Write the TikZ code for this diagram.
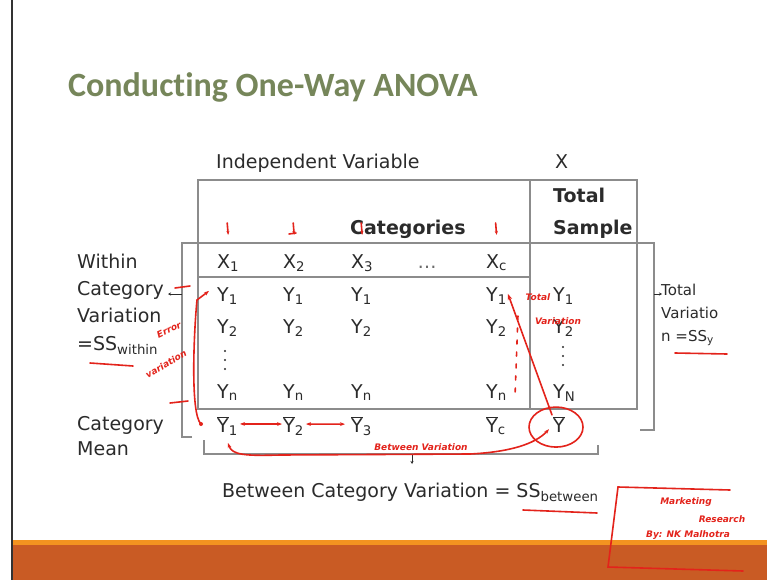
\documentclass[tikz,border=0pt]{standalone}
\usepackage{fontspec}
\setmainfont{DejaVu Sans}
\newfontfamily\titlefont[Ligatures=NoCommon]{Carlito}
\usepackage{xcolor}
\usepackage{tikz}
\usetikzlibrary{arrows.meta, positioning, calc}

\definecolor{titlegreen}{HTML}{76865A}
\definecolor{slidetext}{HTML}{2B2B2B}
\definecolor{framegray}{HTML}{8C8C8C}
\definecolor{penred}{HTML}{E3231B}
\definecolor{bandorange}{HTML}{C95B24}
\definecolor{bandline}{HTML}{F39320}

\newcommand{\barY}{$\overline{\mbox{Y}}$}

\begin{document}
\begin{tikzpicture}[x=1pt, y=-1pt,
    txt/.style={text=slidetext, font=\fontsize{19}{22}\selectfont, inner sep=0pt, anchor=base west},
    frame/.style={draw=framegray, line width=1.2pt},
    pointer/.style={draw=slidetext, line width=0.6pt, -{Stealth[length=3pt, width=3pt]}},
    pen/.style={draw=penred, line width=1.6pt, line cap=round},
    hand/.style={text=penred, font=\fontsize{9}{10}\selectfont\itshape\bfseries, inner sep=0pt}
]
    % Slide background and footer band
    \useasboundingbox (0,0) rectangle (767,580);
    \fill[white] (0,0) rectangle (767,580);
    \fill[bandorange] (12,545) rectangle (767,580);
    \fill[bandline] (12,540) rectangle (767,545);
    \draw[black!80, line width=1.5pt] (12,0) -- (12,580);

    % Title
    \node[text=titlegreen, font=\titlefont\bfseries\fontsize{34}{38}\selectfont, inner sep=0pt, anchor=base west]
        (title) at (68,97) {Conducting One-Way ANOVA};

    % Header texts (multi-line nodes sit on their last baseline)
    \node[txt] (iv) at (216,168) {Independent Variable};
    \node[txt] (xlab) at (555,168) {X};
    \node[txt, font=\fontsize{19}{22}\selectfont\bfseries] (cat) at (350,234) {Categories};
    \node[txt, font=\fontsize{19}{32}\selectfont\bfseries, align=left] (total) at (553,234) {Total\\Sample};

    % The table frame
    \draw[frame] (198,180) rectangle (637,409);
    \draw[frame] (530,180) -- (530,409);
    \draw[frame] (198,277) -- (530,277);
    \draw[frame] (192,437) -- (182,437) -- (182,243) -- (654,243) -- (654,430) -- (640,430);
    \draw[frame] (204,440) -- (204,454) -- (598,454) -- (598,445);

    % Category row
    \foreach \i/\x in {1/217, 2/283, 3/351, c/486} {
        \node[txt] (x\i) at (\x,268) {X\textsubscript{\i}};
    }
    \node[txt, anchor=base, text=slidetext!70] (xdots) at (427,268) {\ldots};

    % Observations in each category
    \foreach \c/\x in {1/217, 2/283, 3/351, c/486} {
        \foreach \r/\yy in {1/301, 2/333, n/398} {
            \node[txt] (y\r\c) at (\x,\yy) {Y\textsubscript{\r}};
        }
        \node[txt] (yb\c) at (\x,432) {\barY\textsubscript{\c}};
    }
    \node[txt] (ty1) at (553,301) {Y\textsubscript{1}};
    \node[txt] (ty2) at (553,333) {Y\textsubscript{2}};
    \node[txt] (tyN) at (553,398) {Y\textsubscript{N}};
    \node[txt] (ybT) at (553,432) {\barY};
    \foreach \d in {0,1,2} {
        \fill[slidetext] (225,351+9*\d) circle (1.1);
        \fill[slidetext] (563,347+9*\d) circle (1.1);
    }

    % Side and bottom labels
    \node[txt, font=\fontsize{19}{27.3}\selectfont, align=left] (within) at (77,350)
        {Within\\Category\\Variation\\=SS\textsubscript{within}};
    \node[txt, font=\fontsize{19}{25}\selectfont, align=left] (catmean) at (77,455) {Category\\Mean};
    \node[txt, font=\fontsize{15}{23}\selectfont, align=left] (totvar) at (661,341)
        {Total\\Variatio\\n =SS\textsubscript{y}};
    \node[txt] (between) at (222,497) {Between Category Variation = SS\textsubscript{between}};
    \draw[pointer] (182,294) -- (168,294);
    \draw[pointer] (654,294) -- (662,294);
    \draw[pointer] (412,454) -- (412,464);

    % Hand-written marks
    \foreach \n in {x1, x2, x3, xc} {
        \draw[pen, -{Stealth[length=4pt]}] ($(\n.north)+(-1,-31)$) -- ($(\n.north)+(0,-19)$);
    }
    \draw[pen] (289,234) -- (296,233);
    \draw[pen] (175,288) -- (190,286);
    \draw[pen] (170,403) -- (188,401);
    \fill[penred] (201,424) circle (2);
    \draw[pen, -{Stealth[length=5pt]}] (201,424) .. controls (190,414) and (194,330) .. (197,300)
        -- ($(y11.west)+(-8,-5)$);
    \node[hand, rotate=25] (errtxt) at (169,330) {Error};
    \node[hand, rotate=30] (vartxt) at (166,364) {variation};
    \draw[pen] (90,363) -- (133,366);

    \draw[pen, {Stealth[length=5pt]}-{Stealth[length=5pt]}] ($(yb1.east)+(2,-2)$) -- ($(yb2.west)+(-1,-2)$);
    \draw[pen, {Stealth[length=5pt]}-{Stealth[length=5pt]}] ($(yb2.east)+(2,-2)$) -- ($(yb3.west)+(-6,-2)$);
    \draw[pen, {Stealth[length=5pt]}-{Stealth[length=5pt]}] (228,443) .. controls (232,455) and (245,456) .. (280,455)
        -- (470,454) .. controls (510,452) and (535,444) .. ($(ybT.south west)+(-4,-3)$);
    \node[hand] (betwtxt) at (421,447) {Between Variation};
    \draw[pen] ($(ybT.center)+(-3,3)$) ellipse (27 and 20);
    \draw[pen, -{Stealth[length=6pt]}] ($(ybT.north)+(-7,-1)$) -- ($(y1c.east)+(1,-2)$);
    \draw[pen, dash pattern=on 4pt off 8pt] ($(y2c.east)+(11,-12)$) -- ($(ync.east)+(8,6)$);
    \node[hand] (tottxt) at (538,297) {Total};
    \node[hand] (vartxt2) at (558,321) {Variation};
    \draw[pen] (675,353) -- (727,354);
    \draw[pen] (523,510) -- (597,513);

    % Hand-written box
    \draw[pen] (730,490) -- (618,487) -- (608,567) -- (743,571);
    \node[hand] (booktxt) at (686,502) {Marketing};
    \node[hand] (booktxt2) at (722,519) {Research};
    \node[hand] (booktxt3) at (688,535) {By: NK Malhotra};
\end{tikzpicture}
\end{document}
